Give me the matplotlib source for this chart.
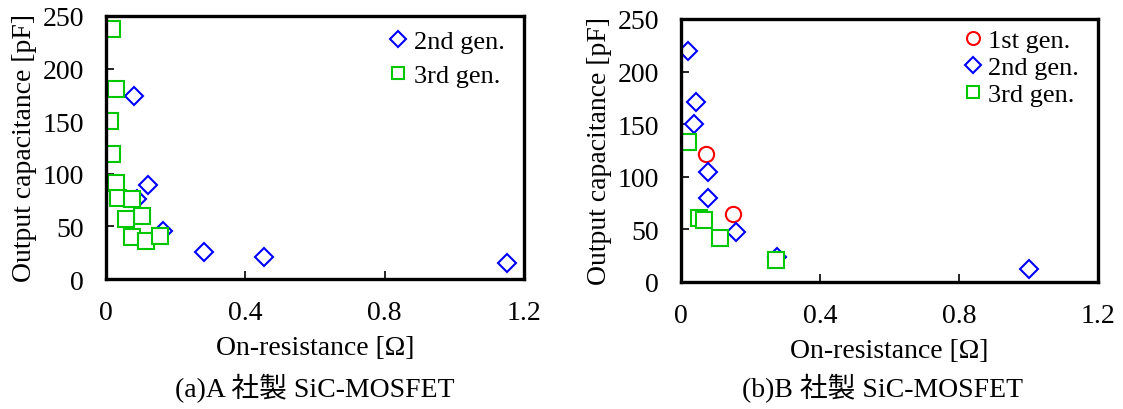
import matplotlib
matplotlib.use('Agg')
import matplotlib.pyplot as plt

plt.rcParams['font.family'] = ['Liberation Serif', 'Noto Sans CJK JP']
plt.rcParams['mathtext.fontset'] = 'stix'

# (a) A社製
a_gen2_x = [0.081, 0.121, 0.088, 0.163, 0.281, 0.453, 1.150]
a_gen2_y = [174, 89, 76, 46, 26, 21, 15]
a_gen3_x = [0.016, 0.029, 0.012, 0.016, 0.029, 0.035, 0.075, 0.102, 0.056, 0.075, 0.115, 0.155]
a_gen3_y = [238, 181, 150, 119, 91, 77, 76, 60, 57, 40, 36, 41]

# (b) B社製
b_gen1_x = [0.071, 0.151]
b_gen1_y = [122, 65]
b_gen2_x = [0.020, 0.042, 0.036, 0.077, 0.077, 0.158, 0.275, 1.000]
b_gen2_y = [220, 171, 150, 105, 80, 48, 24, 12]
b_gen3_x = [0.020, 0.053, 0.065, 0.111, 0.272]
b_gen3_y = [133, 61, 59, 42, 21]

xticks = [0, 0.4, 0.8, 1.2]
xticklabels = ['0', '0.4', '0.8', '1.2']
yticks = [0, 50, 100, 150, 200, 250]

FS = 20
c_red, c_blue, c_green = '#FF0000', '#0000FF', '#00C800'
mk = dict(linestyle='none', markerfacecolor='white', markeredgewidth=1.5)

fig = plt.figure(figsize=(11.23, 4.10), dpi=100)
ax_a = fig.add_axes([106/1123, 1-280/410, 418/1123, 263/410])
ax_b = fig.add_axes([681/1123, 1-283/410, 417/1123, 263/410])


def style(ax):
    ax.set_xlim(0, 1.2)
    ax.set_ylim(0, 250)
    ax.set_xticks(xticks)
    ax.set_xticklabels(xticklabels)
    ax.set_yticks(yticks)
    for s in ax.spines.values():
        s.set_linewidth(2.4)
    ax.tick_params(axis='both', direction='in', length=6, width=1.2, labelsize=FS)
    ax.tick_params(axis='x', pad=15)
    ax.tick_params(axis='y', pad=16)
    ax.set_xlabel('On-resistance [Ω]', fontsize=FS, labelpad=7)
    ax.set_ylabel('Output capacitance [pF]', fontsize=FS, labelpad=4)


# (a)
ax_a.plot(a_gen2_x, a_gen2_y, marker='D', markersize=9.5, color=c_blue, label='2nd gen.', **mk)
ax_a.plot(a_gen3_x, a_gen3_y, marker='s', markersize=11, color=c_green, label='3rd gen.', **mk)
style(ax_a)
ax_a.legend(loc='upper right', bbox_to_anchor=(0.955, 0.948), frameon=False, fontsize=19,
            handlelength=0.8, handletextpad=0.2, borderpad=0, borderaxespad=0,
            labelspacing=0.4, markerscale=0.85)

# (b)
ax_b.plot(b_gen1_x, b_gen1_y, marker='o', markersize=11, color=c_red, label='1st gen.', **mk)
ax_b.plot(b_gen2_x, b_gen2_y, marker='D', markersize=9.5, color=c_blue, label='2nd gen.', **mk)
ax_b.plot(b_gen3_x, b_gen3_y, marker='s', markersize=11, color=c_green, label='3rd gen.', **mk)
style(ax_b)
ax_b.legend(loc='upper right', bbox_to_anchor=(0.955, 0.963), frameon=False, fontsize=19,
            handlelength=0.8, handletextpad=0.2, borderpad=0, borderaxespad=0,
            labelspacing=0.13, markerscale=0.85)

fig.text(315/1123, 1-389/410, '(a)A 社製 SiC-MOSFET', fontsize=FS, ha='center', va='center')
fig.text(882/1123, 1-389/410, '(b)B 社製 SiC-MOSFET', fontsize=FS, ha='center', va='center')

fig.savefig('out.png', dpi=100)
